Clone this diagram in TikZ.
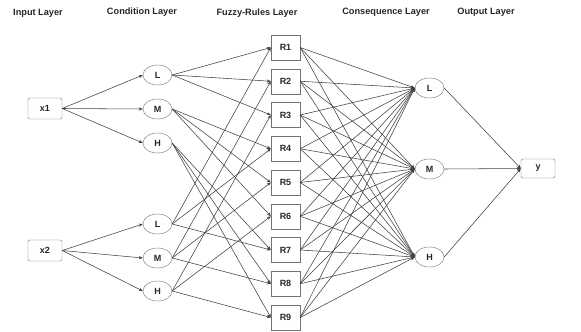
\documentclass[tikz,border=0pt]{standalone}
\usepackage{fontspec}
\setmainfont{Liberation Sans}
\usetikzlibrary{arrows.meta,shapes.geometric}
\begin{document}
\begin{tikzpicture}[x=1pt,y=-1pt,
  every node/.style={font=\bfseries\fontsize{9}{11}\selectfont, text=black!85, inner sep=0pt},
  title/.style={font=\bfseries\fontsize{9.2}{12}\selectfont, anchor=base},
  inbox/.style={draw=black!55, rounded corners=2pt, minimum width=34pt, minimum height=21pt},
  rulebox/.style={draw=black!55, minimum width=29pt, minimum height=25pt},
  mf/.style={draw=black!55, ellipse, minimum width=29pt, minimum height=20pt},
  link/.style={draw=black!75, line width=0.55pt, -{Stealth[length=4pt,width=3.2pt]}}
]
\useasboundingbox (0,0) rectangle (581,332);
% titles
\node[title] (t1) at (38,16) {Input Layer};
\node[title] (t2) at (142,14.5) {Condition Layer};
\node[title] (t3) at (257,15.5) {Fuzzy-Rules Layer};
\node[title] (t4) at (386,14.5) {Consequence Layer};
\node[title] (t5) at (486,14.5) {Output Layer};
% inputs
\node[inbox] (x1) at (45,108.5) {x1};
\node[inbox] (x2) at (45,250.5) {x2};
% condition
\node[mf] (a1) at (157.5,75) {L};
\node[mf] (a2) at (157.5,109) {M};
\node[mf] (a3) at (157.5,143) {H};
\node[mf] (b1) at (157.5,224) {L};
\node[mf] (b2) at (157.5,258) {M};
\node[mf] (b3) at (157.5,291) {H};
% rules
\foreach \i in {1,...,9} {
  \node[rulebox] (R\i) at (285.5,{47.5+(\i-1)*33.75}) {R\i};
}
% consequence
\node[mf] (c1) at (429.5,88) {L};
\node[mf] (c2) at (429.5,169) {M};
\node[mf] (c3) at (429.5,257) {H};
% output
\node[inbox, minimum height=19pt] (y) at (538,168.5) {y};
% edges
\foreach \t in {a1,a2,a3} \path[link] (x1.east) -- (\t.west);
\foreach \t in {b1,b2,b3} \path[link] (x2.east) -- (\t.west);
\foreach \s/\r in {a1/1,a1/2,a1/3,a2/4,a2/5,a2/6,a3/7,a3/8,a3/9,
                   b1/1,b1/4,b1/7,b2/2,b2/5,b2/8,b3/3,b3/6,b3/9}
  \path[link] (\s.east) -- (R\r.west);
\foreach \i in {1,...,9}
  \foreach \c in {c1,c2,c3}
    \path[link] (R\i.east) -- (\c.west);
\foreach \c in {c1,c2,c3} \path[link] (\c.east) -- (y.west);
\end{tikzpicture}
\end{document}
